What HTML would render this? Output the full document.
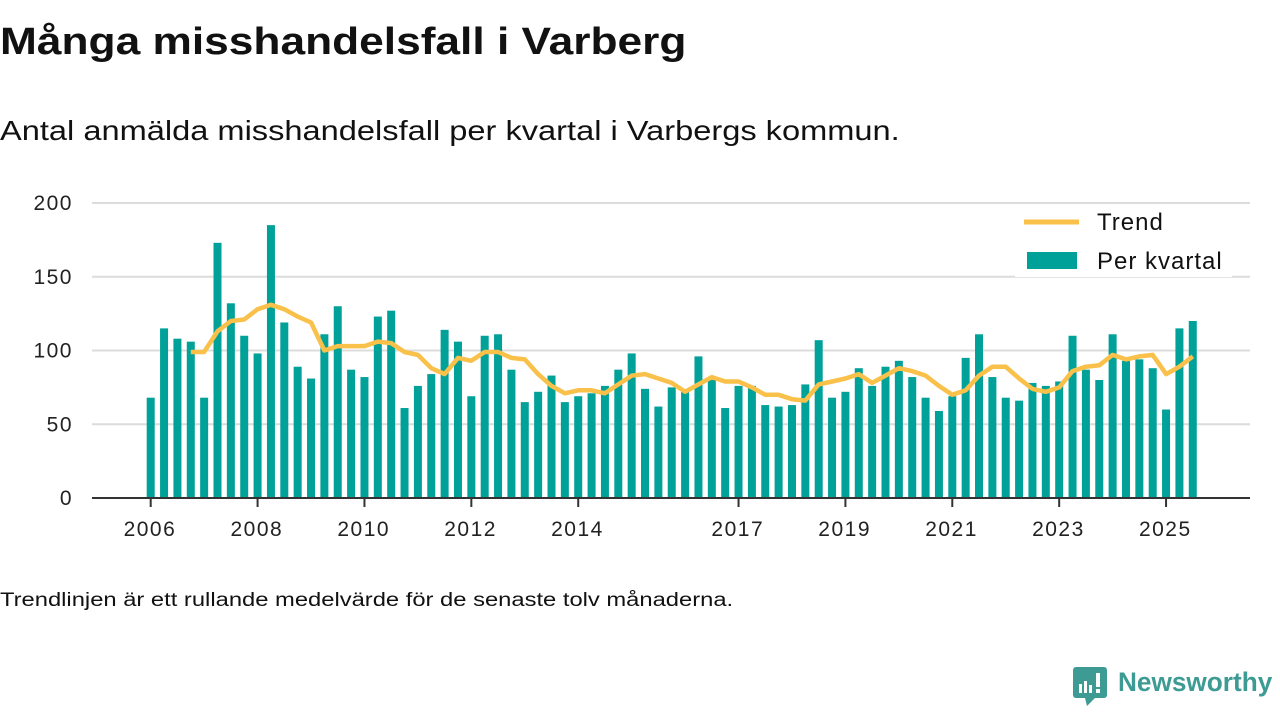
<!DOCTYPE html>
<html><head><meta charset="utf-8">
<style>
body{margin:0;width:1280px;height:720px;background:#fff;font-family:"Liberation Sans",sans-serif;color:#111;overflow:hidden;position:relative}
.t{position:absolute;white-space:nowrap;transform-origin:0 0}
</style></head><body>
<div class="t" style="left:0;top:21px;font-size:38px;font-weight:bold;transform:scaleX(1.165)">Många misshandelsfall i Varberg</div>
<div class="t" style="left:0;top:115px;font-size:28px;transform:scaleX(1.164)">Antal anmälda misshandelsfall per kvartal i Varbergs kommun.</div>
<svg id="chart" width="1280" height="720" style="position:absolute;left:0;top:0"></svg>
<div class="t" style="left:0;top:590px;font-size:19px;transform:scaleX(1.25)">Trendlinjen är ett rullande medelvärde för de senaste tolv månaderna.</div>
<div style="position:absolute;left:1073px;top:667px">
<svg width="36" height="40"><rect x="0" y="0" width="34" height="31" rx="3" fill="#3d9b94"/><polygon points="12,31 22,31 14,39" fill="#3d9b94"/><rect x="6" y="17" width="3" height="9" fill="#fff"/><rect x="11" y="14" width="3" height="12" fill="#fff"/><rect x="16" y="18" width="3" height="8" fill="#fff"/><rect x="23" y="6" width="4" height="14" fill="#fff"/><rect x="23" y="22" width="4" height="4" fill="#fff"/></svg>
</div>
<div class="t" style="left:1118px;top:667px;font-size:27px;font-weight:bold;color:#3d9b94;transform:scaleX(0.97)">Newsworthy</div>
<script>
const quarters=79;
const perKvartal=[68,115,108,106,68,173,132,110,98,185,119,89,81,111,130,87,82,123,127,61,76,84,114,106,69,110,111,87,65,72,83,65,69,71,76,87,98,74,62,75,72,96,80,61,76,76,63,62,63,77,107,68,72,88,76,89,93,82,68,59,69,95,111,82,68,66,78,76,79,110,87,80,111,93,94,88,60,115,120];
const trendStart=3;
const trend=[99,99,113,120,121,128,131,128,123,119,100,103,103,103,106,105,99,97,88,84,95,93,99,99,95,94,84,76,71,73,73,71,77,83,84,81,78,72,77,82,79,79,75,70,70,67,66,77,79,81,84,78,83,88,86,83,76,70,73,83,89,89,81,74,72,75,86,89,90,97,94,96,97,84,89,96];
const yTicks=[0,50,100,150,200];
const xTickIdx=[0,8,16,24,32,44,52,60,68,76];
const xTickLabels=["2006","2008","2010","2012","2014","2017","2019","2021","2023","2025"];
const NS="http://www.w3.org/2000/svg";
const svg=document.getElementById('chart');
const X=i=>150.7+13.36*i;
const Y=v=>498-v*1.475;
function mk(t,a,p){const e=document.createElementNS(NS,t);for(const k in a)e.setAttribute(k,a[k]);(p||svg).appendChild(e);return e;}
yTicks.forEach(v=>{
 if(v>0){const g=mk('line',{x1:92,x2:1250,y1:Y(v),y2:Y(v),stroke:'#dcdcdc','stroke-width':2});
 
 }
 const t=mk('text',{x:73,y:Y(v)+7,'text-anchor':'end','font-size':21,'letter-spacing':1.5,fill:'#222','font-family':'Liberation Sans, sans-serif'});t.textContent=v;
 
 
});
perKvartal.forEach((v,i)=>{
 const r=mk('rect',{x:X(i)-4,y:Y(v),width:8,height:498-Y(v),fill:'#00a199'});
 
 
});
const ax=mk('line',{x1:92,x2:1250,y1:498,y2:498,stroke:'#333','stroke-width':2});


xTickIdx.forEach((q,k)=>{
 const tk=mk('line',{x1:X(q),x2:X(q),y1:498,y2:507,stroke:'#333','stroke-width':2});
 
 
 const t=mk('text',{x:X(q),dx:-0.75,y:536,'text-anchor':'middle','font-size':21,'letter-spacing':1.5,fill:'#222','font-family':'Liberation Sans, sans-serif'});t.textContent=xTickLabels[k];
 
 
});
const pts=trend.map((v,i)=>X(i+trendStart).toFixed(1)+','+Y(v).toFixed(1)).join(' ');
const pl=mk('polyline',{points:pts,fill:'none',stroke:'#f9c04a','stroke-width':4.5,'stroke-linejoin':'round'});


const lg=mk('g',{});


mk('rect',{x:1015,y:204,width:217,height:73,fill:'#fff'},lg);
const l1=mk('line',{x1:1024,x2:1079,y1:222,y2:222,stroke:'#f9c04a','stroke-width':5},lg);


const t1=mk('text',{x:1097,y:230,'font-size':24,'letter-spacing':1,fill:'#111','font-family':'Liberation Sans, sans-serif'},lg);t1.textContent='Trend';


const r2=mk('rect',{x:1027,y:252,width:50,height:17,fill:'#00a199'},lg);


const t2=mk('text',{x:1097,y:269,'font-size':24,'letter-spacing':1,fill:'#111','font-family':'Liberation Sans, sans-serif'},lg);t2.textContent='Per kvartal';


</script>
</body></html>
